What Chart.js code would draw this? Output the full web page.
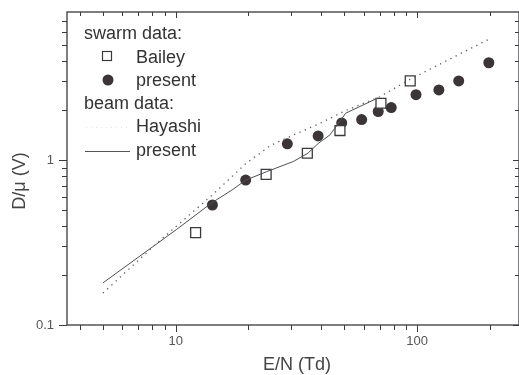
<!DOCTYPE html>
<html>
<head>
<meta charset="utf-8">
<script src="https://cdn.jsdelivr.net/npm/chart.js@4"></script>
<style>
  html,body{margin:0;padding:0;background:#fff;}
  #wrap{width:519px;height:375px;}
</style>
</head>
<body>
<div id="wrap"><canvas id="c" width="519" height="375"></canvas></div>
<script>
/* D/mu vs E/N, log-log */
const baileyX  = [12.1, 23.7, 35.1, 47.9, 70.8, 93.6];
const baileyY  = [0.363, 0.819, 1.10, 1.51, 2.21, 3.02];
const presentX = [14.2, 19.5, 29.0, 38.9, 48.7, 58.9, 69.0, 78.1, 98.9, 123, 148.6, 198];
const presentY = [0.534, 0.756, 1.255, 1.40, 1.68, 1.76, 1.97, 2.08, 2.49, 2.66, 3.02, 3.89];
const hayashiX = [5, 8.2, 14.1, 19.5, 24.6, 28.8, 39.6, 50, 70, 94, 198];
const hayashiY = [0.156, 0.305, 0.61, 0.95, 1.22, 1.36, 1.67, 1.98, 2.42, 3.1, 5.4];
const beamX    = [5, 10.1, 14.1, 17.3, 19.5, 23.8, 30.7, 35.3, 38.9, 43.5, 48, 50.5, 68.8];
const beamY    = [0.18, 0.38, 0.55, 0.665, 0.756, 0.85, 0.98, 1.10, 1.26, 1.42, 1.72, 1.92, 2.38];

const xTicks  = [4,5,6,7,8,9,10,20,30,40,50,60,70,80,90,100,200];
const xLabels = [10, 100];
const yTicks  = [0.2,0.3,0.4,0.5,0.6,0.7,0.8,0.9,1,2,3,4,5,6,7];
const yLabels = [0.1, 1];

const INK = '#3a3a3e';
const pts = (xs, ys) => xs.map((x,i)=>({x, y: ys[i]}));

Chart.defaults.font.family = '"Liberation Sans", Arial, sans-serif';

// frame, ticks, axis titles and the legend block
const decor = {
  id: 'decor',
  afterDraw(chart){
    const {ctx, chartArea: a, scales:{x, y}} = chart;
    ctx.save();
    ctx.strokeStyle = INK;
    ctx.lineWidth = 1.3;
    ctx.strokeRect(a.left, a.top, a.right - a.left, a.bottom - a.top);
    ctx.lineWidth = 1;
    ctx.beginPath();
    xTicks.forEach(v => {
      const px = Math.round(x.getPixelForValue(v)) + 0.5;
      const major = v === 10 || v === 100;
      ctx.moveTo(px, a.bottom); ctx.lineTo(px, a.bottom + (major ? 7 : 5));
      ctx.moveTo(px, a.top);    ctx.lineTo(px, a.top + (major ? 6 : 4));
    });
    yTicks.concat([0.1]).forEach(v => {
      const py = Math.round(y.getPixelForValue(v)) + 0.5;
      const major = v === 1 || v === 0.1;
      ctx.moveTo(a.left, py);  ctx.lineTo(a.left - (major ? 8 : 5), py);
      ctx.moveTo(a.right, py); ctx.lineTo(a.right - (major ? 6 : 4), py);
    });
    ctx.stroke();

    // axis titles
    ctx.fillStyle = '#444';
    ctx.font = '18px "Liberation Sans", Arial, sans-serif';
    ctx.textAlign = 'center';
    ctx.textBaseline = 'middle';
    ctx.fillText('E/N (Td)', 297, 365);
    ctx.save();
    ctx.translate(20, 181);
    ctx.rotate(-Math.PI/2);
    ctx.fillText('D/\u03bc (V)', 0, 0);
    ctx.restore();

    // legend
    ctx.fillStyle = '#333';
    ctx.textAlign = 'left';
    ctx.textBaseline = 'alphabetic';
    ctx.fillText('swarm data:', 84, 39);
    ctx.fillText('Bailey', 136, 63);
    ctx.fillText('present', 136, 86);
    ctx.fillText('beam data:', 84, 109);
    ctx.fillText('Hayashi', 136, 132);
    ctx.fillText('present', 136, 156);
    ctx.strokeStyle = INK; ctx.lineWidth = 1.2;
    ctx.strokeRect(102.5, 51.5, 9, 9);
    ctx.beginPath(); ctx.arc(108, 80, 5.5, 0, Math.PI*2); ctx.fillStyle = '#3b3538'; ctx.fill();
    ctx.strokeStyle = '#e4e4e4'; ctx.lineWidth = 1; ctx.setLineDash([1,4]);
    ctx.beginPath(); ctx.moveTo(86, 127.5); ctx.lineTo(130, 127.5); ctx.stroke();
    ctx.setLineDash([]);
    ctx.strokeStyle = '#555';
    ctx.beginPath(); ctx.moveTo(85, 151.5); ctx.lineTo(130, 151.5); ctx.stroke();
    ctx.restore();
  }
};

const noPad = s => { s.paddingLeft = 0; s.paddingRight = 0; s.paddingTop = 0; s.paddingBottom = 0; };

new Chart(document.getElementById('c'), {
  type: 'scatter',
  data: {
    datasets: [
      {label:'Hayashi', data: pts(hayashiX, hayashiY), showLine:true, borderColor:'#5e5e62', borderWidth:1.3,
       borderDash:[1.3,4.5], pointRadius:0, fill:false, tension:0},
      {label:'beam present', data: pts(beamX, beamY), showLine:true, borderColor:'#505054', borderWidth:1,
       pointRadius:0, fill:false, tension:0},
      {label:'Bailey', data: pts(baileyX, baileyY), pointStyle:'rect', pointRadius:7, borderColor:INK,
       borderWidth:1.3, backgroundColor:'#fff'},
      {label:'present', data: pts(presentX, presentY), pointStyle:'circle', pointRadius:5.5,
       backgroundColor:'#3b3538', borderColor:'#3b3538', borderWidth:0}
    ]
  },
  options: {
    responsive:false, animation:false,
    layout:{autoPadding:false, padding:{top:12, right:0, left:0, bottom:0}},
    plugins:{legend:{display:false}, tooltip:{enabled:false}},
    scales:{
      x:{type:'logarithmic', min:3.55, max:264,
         afterBuildTicks: s => { s.ticks = xTicks.map(v=>({value:v})); },
         afterFit: s => { s.height = 50; noPad(s); },
         grid:{display:false, drawTicks:false}, border:{display:false},
         ticks:{autoSkip:false, maxRotation:0, padding:9, color:'#555', font:{size:13},
                callback: v => xLabels.includes(v) ? String(v) : ''}},
      y:{type:'logarithmic', min:0.1, max:7.9,
         afterBuildTicks: s => { s.ticks = [0.1].concat(yTicks).map(v=>({value:v})); },
         afterFit: s => { s.width = 67; noPad(s); },
         grid:{display:false, drawTicks:false}, border:{display:false},
         ticks:{autoSkip:false, padding:13, color:'#555', font:{size:13},
                callback: v => yLabels.includes(v) ? String(v) : ''}}
    }
  },
  plugins:[decor]
});
</script>
</body>
</html>
